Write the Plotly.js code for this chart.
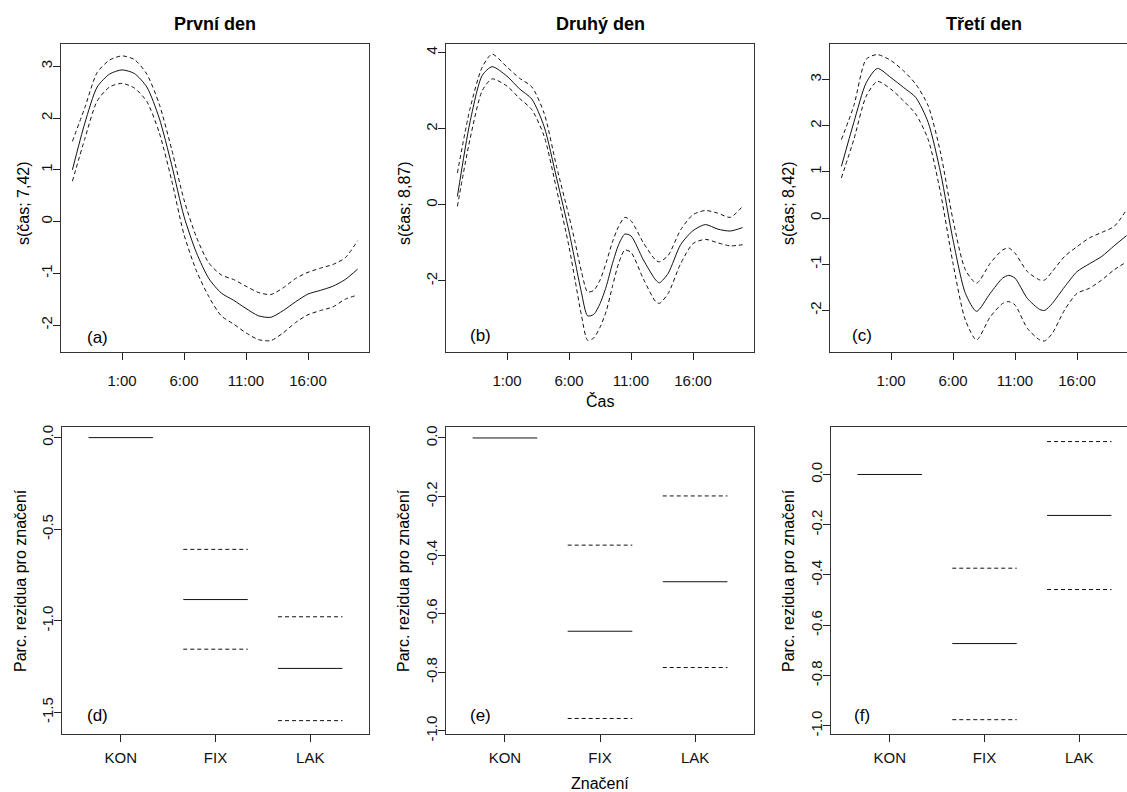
<!DOCTYPE html>
<html><head><meta charset="utf-8">
<script src="https://cdn.plot.ly/plotly-3.0.1.min.js"></script>
<style>html,body{margin:0;padding:0;overflow:hidden;background:#fff;width:1127px;height:792px}</style>
</head><body><div id="chart"></div>
<script>
// ---- Data: smooth terms s(čas) per day (hours relative to midnight) ----
const hoursA = [-3,-2,-1,0,1,2,3,4,5,6,7,8,9,10,11,12,13,14,15,16,17,18,19,20];
const fitA   = [1.0,1.9,2.6,2.85,2.93,2.86,2.6,2.0,1.1,0.1,-0.6,-1.1,-1.38,-1.52,-1.68,-1.82,-1.85,-1.72,-1.55,-1.4,-1.33,-1.25,-1.12,-0.92];
const upperA = [1.55,2.2,2.88,3.12,3.2,3.13,2.85,2.27,1.4,0.42,-0.3,-0.8,-1.03,-1.12,-1.25,-1.37,-1.41,-1.28,-1.1,-0.98,-0.9,-0.83,-0.7,-0.37];
const lowerA = [0.78,1.6,2.33,2.6,2.67,2.58,2.32,1.72,0.8,-0.25,-0.95,-1.45,-1.82,-1.98,-2.15,-2.28,-2.3,-2.15,-1.95,-1.8,-1.72,-1.65,-1.5,-1.42];

const hoursB = [-3,-2,-1,-0.2,1,2,3,4,5,6,6.5,7,7.5,8,8.5,9,9.5,10,10.5,11,12,13,13.3,14,15,16,17,18,19,20];
const fitB   = [0.22,2.15,3.4,3.63,3.38,3.05,2.78,2.05,0.7,-0.7,-1.5,-2.3,-2.92,-2.88,-2.6,-2.15,-1.55,-1.05,-0.77,-0.82,-1.45,-1.98,-2.05,-1.8,-1.05,-0.68,-0.52,-0.64,-0.69,-0.6];
const upperB = [0.84,2.5,3.62,3.96,3.62,3.33,3.1,2.4,1.0,-0.3,-1.0,-1.75,-2.29,-2.25,-1.98,-1.52,-0.98,-0.57,-0.33,-0.42,-1.0,-1.46,-1.5,-1.33,-0.66,-0.26,-0.15,-0.22,-0.33,-0.04];
const lowerB = [-0.04,1.7,3.0,3.31,3.12,2.8,2.5,1.8,0.4,-1.1,-2.0,-2.9,-3.56,-3.5,-3.22,-2.8,-2.15,-1.54,-1.19,-1.25,-1.95,-2.55,-2.59,-2.33,-1.55,-1.02,-0.91,-1.0,-1.08,-1.05];

const hoursC = [-3,-2,-1,-0.1,1,2,3,4,5,6,7,7.9,9,10,10.5,11,12,13,13.4,14,15,16,17,18,19,20];
const fitC   = [1.12,2.07,2.93,3.24,3.04,2.83,2.61,2.07,0.98,-0.47,-1.63,-2.02,-1.63,-1.3,-1.24,-1.3,-1.74,-1.98,-2.0,-1.85,-1.49,-1.16,-0.99,-0.83,-0.6,-0.38];
const upperC = [1.7,2.43,3.44,3.54,3.41,3.19,2.9,2.43,1.41,-0.04,-1.12,-1.41,-0.98,-0.69,-0.65,-0.76,-1.16,-1.34,-1.34,-1.16,-0.83,-0.62,-0.43,-0.31,-0.18,0.18];
const lowerC = [0.87,1.7,2.64,2.96,2.79,2.54,2.25,1.7,0.54,-0.98,-2.21,-2.64,-2.14,-1.85,-1.81,-1.88,-2.39,-2.64,-2.66,-2.5,-1.99,-1.63,-1.52,-1.34,-1.12,-0.95];

const timeTickVals = [1,6,11,16];
const timeTickText = ["1:00","6:00","11:00","16:00"];

// ---- Data: partial residuals for značení (factor) ----
const categories = ["KON","FIX","LAK"];
const fitD   = [0,-0.884,-1.26];
const upperD = [null,-0.61,-0.978];
const lowerD = [null,-1.155,-1.545];
const fitE   = [0,-0.66,-0.491];
const upperE = [null,-0.366,-0.198];
const lowerE = [null,-0.958,-0.784];
const fitF   = [0,-0.673,-0.163];
const upperF = [null,-0.373,0.131];
const lowerF = [null,-0.976,-0.458];

const titles = ["První den","Druhý den","Třetí den"];
const yTitlesTop = ["s(čas; 7,42)","s(čas; 8,87)","s(čas; 8,42)"];
const yTitleBottom = "Parc. rezidua pro značení";
const panelLetters = ["(a)","(b)","(c)","(d)","(e)","(f)"];

const yTicksA = [-2,-1,0,1,2,3];
const yTicksB = [-2,0,2,4];
const yTicksC = [-2,-1,0,1,2,3];
const yTicksD = [0,-0.5,-1.0,-1.5];
const yTicksE = [0,-0.2,-0.4,-0.6,-0.8,-1.0];
const yTicksF = [0,-0.2,-0.4,-0.6,-0.8,-1.0];

// ---- Layout helpers ----
const W = 1140, H = 792;
const px = v => v / W;
const py = v => 1 - v / H;
const LINE = '#111';
const DASH = '4px,3px';
const FONT = 'Liberation Sans, Arial, sans-serif';

function fmtTick(v, dec) {
  const s = dec ? Math.abs(v).toFixed(dec) : String(Math.abs(v));
  return (v < 0 ? '-' : '') + s;
}

const traces = [];
function curve(x, y, ax, dashed) {
  traces.push({x: x, y: y, xaxis: 'x' + ax, yaxis: 'y' + ax, type: 'scatter', mode: 'lines',
    line: {color: LINE, width: 1, shape: 'spline', smoothing: 0.7, dash: dashed ? DASH : 'solid'},
    hoverinfo: 'skip', showlegend: false});
}
function segs(vals, ax, dashed) {
  const x = [], y = [];
  vals.forEach((v, i) => {
    if (v === null) return;
    x.push(i + 1 - 0.34, i + 1 + 0.34, null);
    y.push(v, v, null);
  });
  traces.push({x: x, y: y, xaxis: 'x' + ax, yaxis: 'y' + ax, type: 'scatter', mode: 'lines',
    line: {color: LINE, width: 1, dash: dashed ? DASH : 'solid'}, hoverinfo: 'skip', showlegend: false});
}

curve(hoursA, fitA, '', false); curve(hoursA, upperA, '', true); curve(hoursA, lowerA, '', true);
curve(hoursB, fitB, '2', false); curve(hoursB, upperB, '2', true); curve(hoursB, lowerB, '2', true);
curve(hoursC, fitC, '3', false); curve(hoursC, upperC, '3', true); curve(hoursC, lowerC, '3', true);
segs(fitD, '4', false); segs(upperD, '4', true); segs(lowerD, '4', true);
segs(fitE, '5', false); segs(upperE, '5', true); segs(lowerE, '5', true);
segs(fitF, '6', false); segs(upperF, '6', true); segs(lowerF, '6', true);

const cols = [[61, 369], [446, 754], [830, 1138]];
const colsB = [[62, 369], [446, 754], [831, 1138]];
const rowTop = [43.5, 352], rowBot = [427, 734];

function xaxisTop(c) {
  return {domain: [px(cols[c][0]), px(cols[c][1])], range: [-3.92, 20.92],
    tickvals: timeTickVals, ticktext: timeTickText, ticks: 'outside', ticklen: 7, tickcolor: '#222',
    showline: true, mirror: true, linecolor: '#333', linewidth: 1, showgrid: false, zeroline: false,
    tickfont: {family: FONT, size: 15, color: '#111'}, ticklabelstandoff: 8, fixedrange: true};
}
function xaxisBot(c) {
  return {domain: [px(colsB[c][0]), px(colsB[c][1])], range: [0.38, 3.62],
    tickvals: [1, 2, 3], ticktext: categories, ticks: 'outside', ticklen: 7, tickcolor: '#222',
    showline: true, mirror: true, linecolor: '#333', linewidth: 1, showgrid: false, zeroline: false,
    tickfont: {family: FONT, size: 15, color: '#111'}, ticklabelstandoff: 3, fixedrange: true};
}
function yaxis(row, range, ticks, dec, anchor) {
  return {domain: row === 0 ? [py(rowTop[1]), py(rowTop[0])] : [py(rowBot[1]), py(rowBot[0])],
    range: range, tickvals: ticks, ticktext: ticks.map(v => fmtTick(v, dec)), tickangle: -90,
    ticks: 'outside', ticklen: 7, tickcolor: '#222', showline: true, mirror: true, linecolor: '#333',
    linewidth: 1, showgrid: false, zeroline: false, anchor: anchor, ticklabelstandoff: -5,
    tickfont: {family: FONT, size: 15, color: '#111'}, fixedrange: true};
}

const layout = {
  width: W, height: H, margin: {l: 0, r: 0, t: 0, b: 0}, paper_bgcolor: '#fff', plot_bgcolor: '#fff',
  showlegend: false, font: {family: FONT, color: '#111'},
  xaxis: Object.assign(xaxisTop(0), {anchor: 'y'}),
  xaxis2: Object.assign(xaxisTop(1), {anchor: 'y2'}),
  xaxis3: Object.assign(xaxisTop(2), {anchor: 'y3'}),
  xaxis4: Object.assign(xaxisBot(0), {anchor: 'y4'}),
  xaxis5: Object.assign(xaxisBot(1), {anchor: 'y5'}),
  xaxis6: Object.assign(xaxisBot(2), {anchor: 'y6'}),
  yaxis: yaxis(0, [-2.52, 3.44], yTicksA, 0, 'x'),
  yaxis2: yaxis(0, [-3.87, 4.24], yTicksB, 0, 'x2'),
  yaxis3: yaxis(0, [-2.9, 3.78], yTicksC, 0, 'x3'),
  yaxis4: yaxis(1, [-1.618, 0.058], yTicksD, 1, 'x4'),
  yaxis5: yaxis(1, [-1.011, 0.0375], yTicksE, 1, 'x5'),
  yaxis6: yaxis(1, [-1.033, 0.189], yTicksF, 1, 'x6'),
  annotations: []
};

const ann = layout.annotations;
function label(text, x, y, size, angle, bold) {
  ann.push({text: bold ? '<b>' + text + '</b>' : text, x: px(x), y: py(y), xref: 'paper', yref: 'paper',
    xanchor: 'center', yanchor: 'middle', showarrow: false, textangle: angle || 0,
    font: {family: FONT, size: size, color: '#000'}});
}
titles.forEach((t, i) => label(t, (cols[i][0] + cols[i][1]) / 2, 24, 18, 0, true));
[24, 405, 789].forEach((x, i) => label(yTitlesTop[i], x, 203, 16, -90));
[20, 403, 788].forEach(x => label(yTitleBottom, x, 581, 16, -90));
label('Čas', 600, 401, 16, 0);
label('Značení', 600, 783, 16, 0);
const letterPos = [[97, 337], [480, 335], [862, 335], [97, 715], [480, 715], [862, 715]];
letterPos.forEach((p, i) => label(panelLetters[i], p[0], p[1], 17, 0));

Plotly.newPlot('chart', traces, layout, {staticPlot: true, displayModeBar: false});
</script></body></html>
